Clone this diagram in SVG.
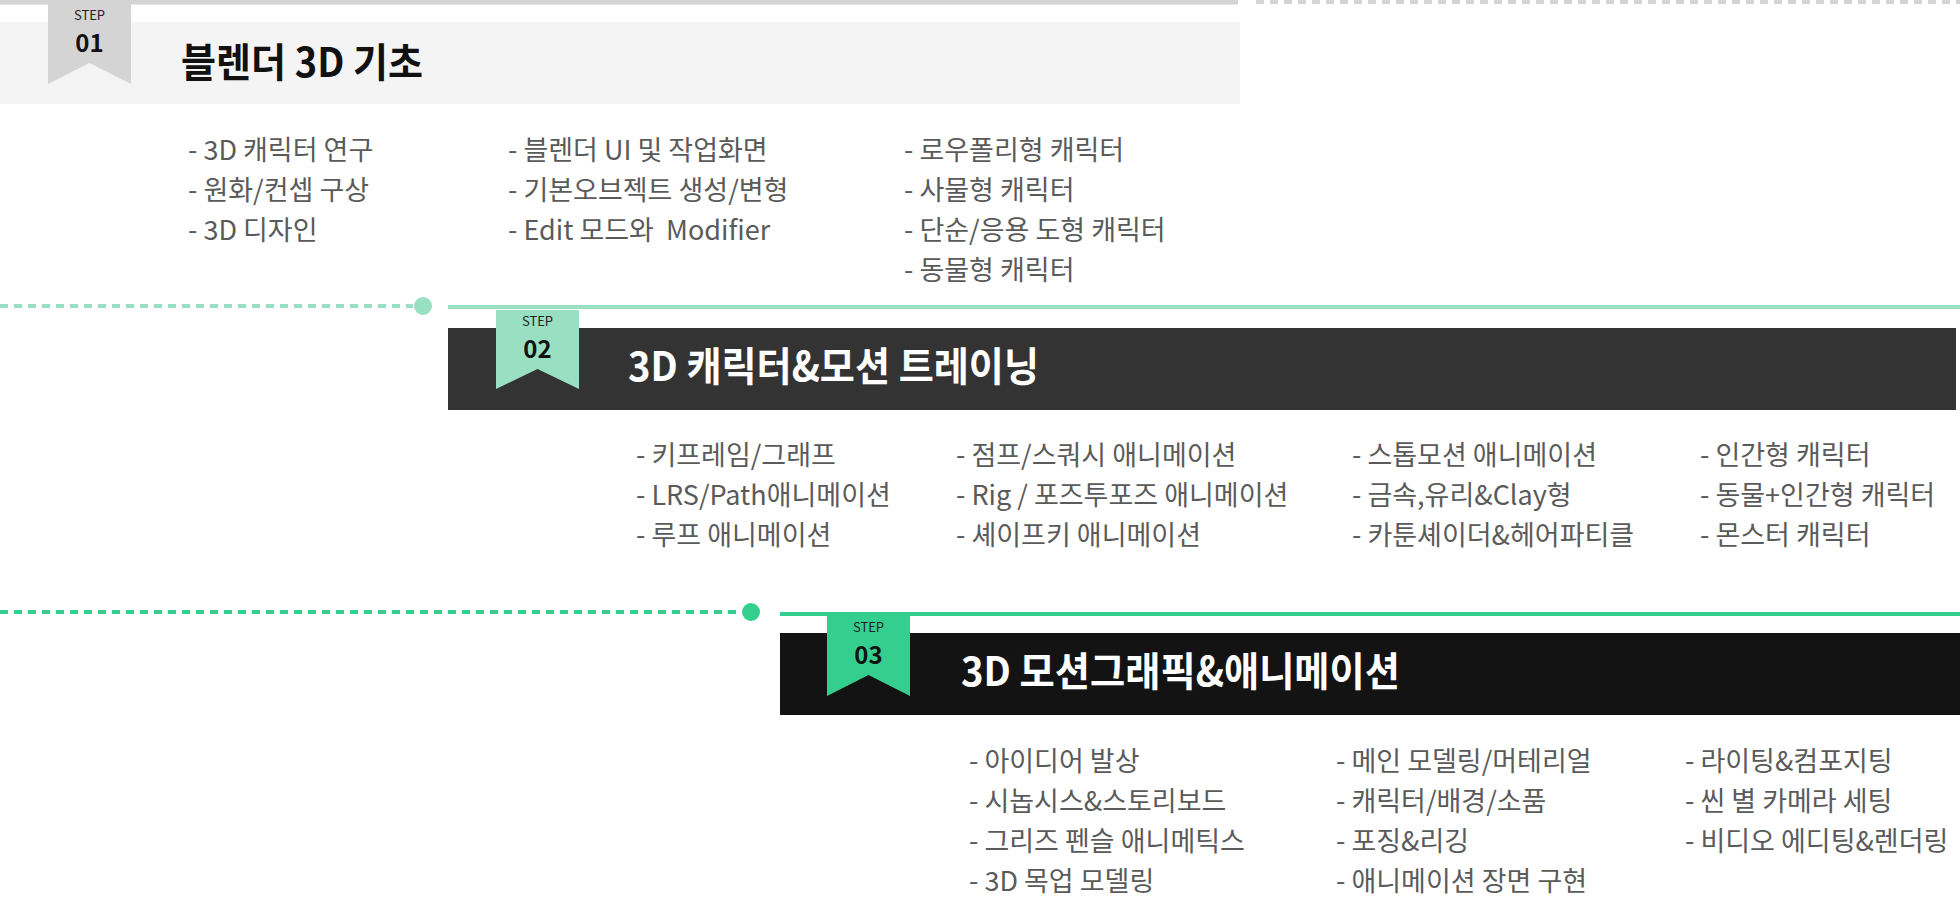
<svg xmlns="http://www.w3.org/2000/svg" width="1960" height="904" viewBox="0 0 1960 904">
<style>
text{font-family:"Noto Sans CJK KR","Noto Sans",sans-serif}
.it{font-size:27px;fill:#5a5a5a}
.st{font-size:13px;text-anchor:middle;fill:#222}
.num{font-size:24px;font-weight:bold;text-anchor:middle;fill:#111}
.ti{font-size:40px;font-weight:bold}
</style>
<rect width="1960" height="904" fill="#fff"/>
<g id="connectors">
<line x1="0" y1="2" x2="1238" y2="2" stroke="#d4d4d4" stroke-width="5"/>
<line x1="1256" y1="2" x2="1960" y2="2" stroke="#d4d4d4" stroke-width="4" stroke-dasharray="8,6"/>
<line x1="0" y1="306" x2="413" y2="306" stroke="#99e0c2" stroke-width="4" stroke-dasharray="8,6"/>
<circle cx="423" cy="306" r="9" fill="#99e0c2"/>
<line x1="448" y1="307" x2="1960" y2="307" stroke="#99e0c2" stroke-width="4"/>
<line x1="0" y1="612" x2="738" y2="612" stroke="#34cf8f" stroke-width="4" stroke-dasharray="8,6"/>
<circle cx="751" cy="612" r="9" fill="#34cf8f"/>
<line x1="780" y1="614" x2="1960" y2="614" stroke="#34cf8f" stroke-width="4"/>
</g>
<g id="step1">
<rect x="0" y="22" width="1240" height="82" fill="#f4f4f4"/>
<polygon points="48,4 131,4 131,84 89.5,63 48,84" fill="#d4d4d4"/>
<text class="st" x="89.5" y="20">STEP</text>
<text class="num" x="89.5" y="52">01</text>
<text class="ti" x="181" y="77" fill="#111" textLength="242" lengthAdjust="spacingAndGlyphs">블렌더 3D 기초</text>
<text class="it" x="188" y="160">- 3D 캐릭터 연구</text>
<text class="it" x="188" y="200">- 원화/컨셉 구상</text>
<text class="it" x="188" y="240">- 3D 디자인</text>
<text class="it" x="508" y="160">- 블렌더 UI 및 작업화면</text>
<text class="it" x="508" y="200">- 기본오브젝트 생성/변형</text>
<text class="it" x="508" y="240" xml:space="preserve">- Edit 모드와  Modifier</text>
<text class="it" x="904" y="160">- 로우폴리형 캐릭터</text>
<text class="it" x="904" y="200">- 사물형 캐릭터</text>
<text class="it" x="904" y="240">- 단순/응용 도형 캐릭터</text>
<text class="it" x="904" y="280">- 동물형 캐릭터</text>
</g>
<g id="step2">
<rect x="448" y="328" width="1508" height="82" fill="#333"/>
<polygon points="496,310 579,310 579,389 537.5,369 496,389" fill="#99e0c2"/>
<text class="st" x="537.5" y="326">STEP</text>
<text class="num" x="537.5" y="358">02</text>
<text class="ti" x="628" y="381" fill="#fff" textLength="411" lengthAdjust="spacingAndGlyphs">3D 캐릭터&amp;모션 트레이닝</text>
<text class="it" x="636" y="465">- 키프레임/그래프</text>
<text class="it" x="636" y="505">- LRS/Path애니메이션</text>
<text class="it" x="636" y="545">- 루프 애니메이션</text>
<text class="it" x="956" y="465">- 점프/스쿼시 애니메이션</text>
<text class="it" x="956" y="505">- Rig / 포즈투포즈 애니메이션</text>
<text class="it" x="956" y="545">- 셰이프키 애니메이션</text>
<text class="it" x="1352" y="465">- 스톱모션 애니메이션</text>
<text class="it" x="1352" y="505">- 금속,유리&amp;Clay형</text>
<text class="it" x="1352" y="545">- 카툰셰이더&amp;헤어파티클</text>
<text class="it" x="1700" y="465">- 인간형 캐릭터</text>
<text class="it" x="1700" y="505">- 동물+인간형 캐릭터</text>
<text class="it" x="1700" y="545">- 몬스터 캐릭터</text>
</g>
<g id="step3">
<rect x="780" y="633" width="1180" height="82" fill="#131313"/>
<polygon points="827,616 910,616 910,696 868.5,675 827,696" fill="#34cf8f"/>
<text class="st" x="868.5" y="632">STEP</text>
<text class="num" x="868.5" y="664">03</text>
<text class="ti" x="961" y="686" fill="#fff" textLength="439" lengthAdjust="spacingAndGlyphs">3D 모션그래픽&amp;애니메이션</text>
<text class="it" x="969" y="771">- 아이디어 발상</text>
<text class="it" x="969" y="811">- 시놉시스&amp;스토리보드</text>
<text class="it" x="969" y="851">- 그리즈 펜슬 애니메틱스</text>
<text class="it" x="969" y="891">- 3D 목업 모델링</text>
<text class="it" x="1336" y="771">- 메인 모델링/머테리얼</text>
<text class="it" x="1336" y="811">- 캐릭터/배경/소품</text>
<text class="it" x="1336" y="851">- 포징&amp;리깅</text>
<text class="it" x="1336" y="891">- 애니메이션 장면 구현</text>
<text class="it" x="1685" y="771">- 라이팅&amp;컴포지팅</text>
<text class="it" x="1685" y="811">- 씬 별 카메라 세팅</text>
<text class="it" x="1685" y="851">- 비디오 에디팅&amp;렌더링</text>
</g>
</svg>
